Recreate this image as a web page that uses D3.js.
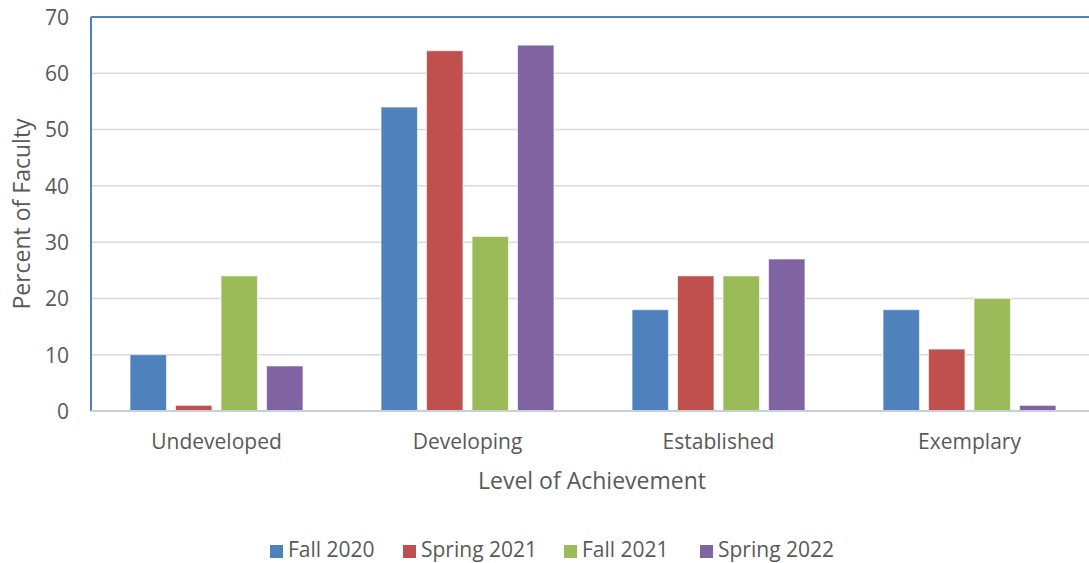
<!DOCTYPE html>
<html>
<head>
<meta charset="utf-8">
<script src="https://cdn.jsdelivr.net/npm/d3@7"></script>
<style>
    body { margin: 0; background: #fff; }
    svg { display: block; }
    svg text { font-family: "Open Sans", "Noto Sans", sans-serif; }
</style>
</head>
<body>
<svg id="chart" width="1089" height="563"></svg>
<script>
const categories = ['Undeveloped', 'Developing', 'Established', 'Exemplary']
const seriesNames = ['Fall 2020', 'Spring 2021', 'Fall 2021', 'Spring 2022']
const fall2020 = [10, 54, 18, 18]
const spring2021 = [1, 64, 24, 11]
const fall2021 = [24, 31, 24, 20]
const spring2022 = [8, 65, 27, 1]
const yTicks = [0, 10, 20, 30, 40, 50, 60, 70]

const colours = ['#4F81BD', '#C0504D', '#9BBB59', '#8064A2']
const textColour = '#595959'
const seriesValues = [fall2020, spring2021, fall2021, spring2022]

const margin = { top: 17, left: 91 }
const width = 1004
const height = 394

const svg = d3.select('#chart')
const chart = svg.append('g').attr('transform', `translate(${margin.left}, ${margin.top})`)

const x = d3.scaleBand().domain(categories).range([0, width]).paddingInner(0).paddingOuter(0)
const y = d3.scaleLinear().domain([0, 70]).range([height, 0])
const xInner = d3.scaleBand().domain(seriesNames).range([0, 182]).paddingInner(0.2).paddingOuter(0.1)

// gridlines
chart.append('g')
    .selectAll('line')
    .data(yTicks.filter(d => d > 0 && d < 70))
    .join('line')
    .attr('x1', 0)
    .attr('x2', width)
    .attr('y1', d => y(d))
    .attr('y2', d => y(d))
    .attr('stroke', '#d9d9d9')
    .attr('stroke-width', 1.5)

// bars
const groups = chart.append('g')
    .selectAll('g')
    .data(categories)
    .join('g')
    .attr('transform', c => `translate(${x(c) + x.bandwidth() / 2 - 91}, 0)`)

groups.selectAll('rect')
    .data((c, i) => seriesNames.map((s, j) => ({ s, v: seriesValues[j][i], j })))
    .join('rect')
    .attr('x', d => xInner(d.s))
    .attr('width', xInner.bandwidth())
    .attr('y', d => y(d.v))
    .attr('height', d => y(0) - y(d.v))
    .attr('fill', d => colours[d.j])
    .attr('stroke', 'rgba(255,255,255,0.6)')
    .attr('stroke-width', 1)

// frame: top and left in blue, baseline light
chart.append('line')
    .attr('x1', 0).attr('x2', width).attr('y1', y(70)).attr('y2', y(70))
    .attr('stroke', '#4F81BD').attr('stroke-width', 2)
chart.append('line')
    .attr('x1', 0).attr('x2', 0).attr('y1', y(70)).attr('y2', y(0))
    .attr('stroke', '#4F81BD').attr('stroke-width', 2)
chart.append('line')
    .attr('x1', 0).attr('x2', width).attr('y1', y(0)).attr('y2', y(0))
    .attr('stroke', '#c5cfe0').attr('stroke-width', 2)

// y axis labels
chart.append('g')
    .call(d3.axisLeft(y).tickValues(yTicks).tickSize(0).tickPadding(22))
    .call(g => g.select('.domain').remove())
    .call(g => g.selectAll('text')
        .attr('fill', textColour)
        .style('font-size', '21px')
        .attr('dy', '0.35em'))

// x axis labels
chart.append('g')
    .attr('transform', `translate(0, ${height})`)
    .call(d3.axisBottom(x).tickSize(0).tickPadding(23))
    .call(g => g.select('.domain').remove())
    .call(g => g.selectAll('text')
        .attr('fill', textColour)
        .style('font-size', '21px'))

// axis titles
svg.append('text')
    .attr('transform', 'translate(30, 214) rotate(-90)')
    .attr('text-anchor', 'middle')
    .attr('fill', textColour)
    .style('font-size', '23px')
    .text('Percent of Faculty')

svg.append('text')
    .attr('x', 592)
    .attr('y', 489)
    .attr('text-anchor', 'middle')
    .attr('fill', textColour)
    .style('font-size', '23px')
    .text('Level of Achievement')

// legend
const legendX = [270, 403, 564, 700]
const legend = svg.append('g')
    .selectAll('g')
    .data(seriesNames)
    .join('g')
    .attr('transform', (d, i) => `translate(${legendX[i]}, 545)`)

legend.append('rect')
    .attr('width', 13)
    .attr('height', 13)
    .attr('fill', (d, i) => colours[i])

legend.append('text')
    .attr('x', 18)
    .attr('y', 12)
    .attr('fill', textColour)
    .style('font-size', '21px')
    .text(d => d)
</script>
</body>
</html>
